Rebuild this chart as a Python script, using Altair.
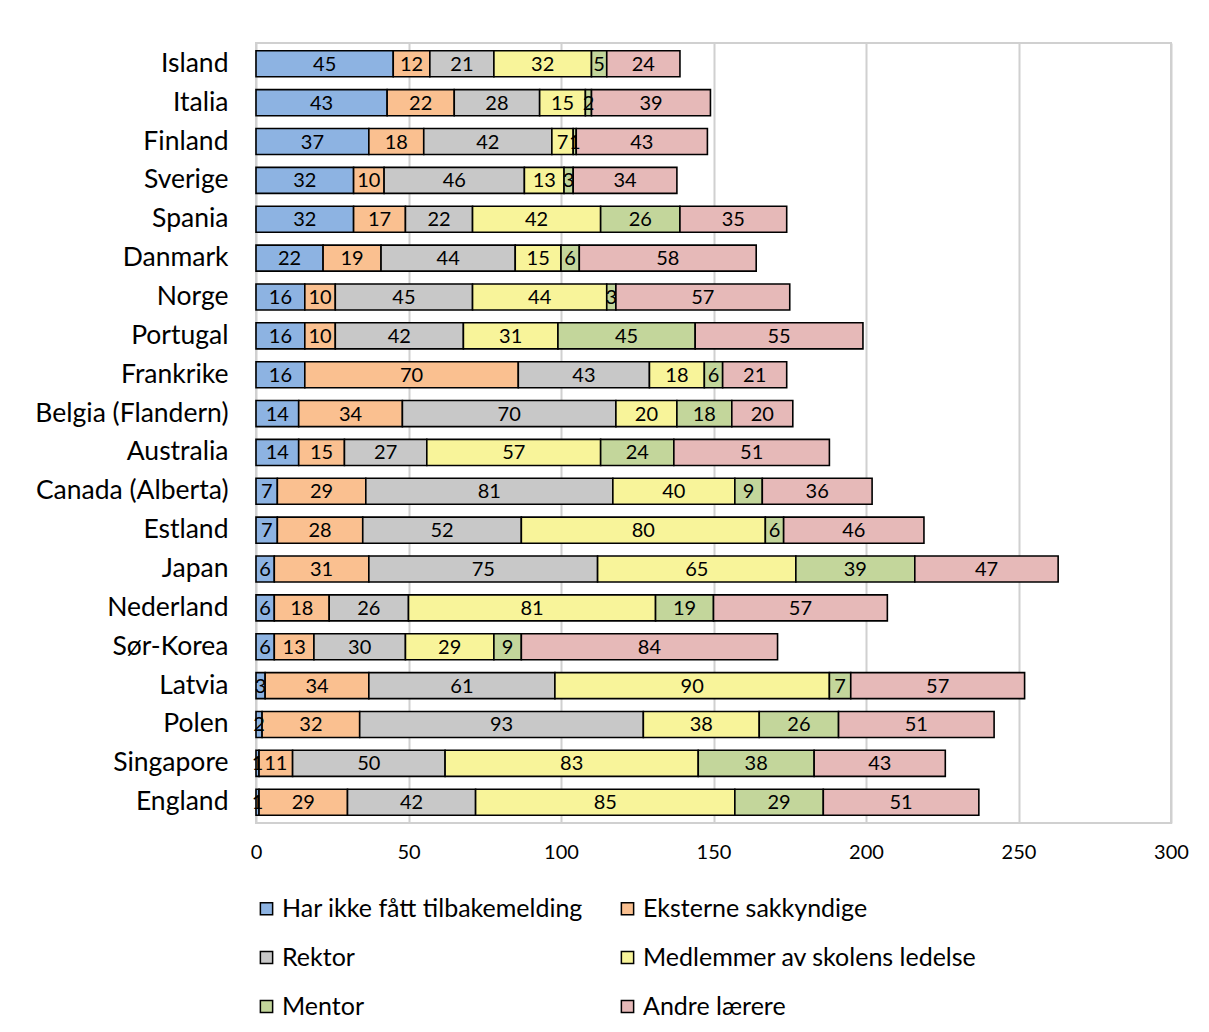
import altair as alt
import pandas as pd

countries = ["Island", "Italia", "Finland", "Sverige", "Spania", "Danmark", "Norge",
             "Portugal", "Frankrike", "Belgia (Flandern)", "Australia", "Canada (Alberta)",
             "Estland", "Japan", "Nederland", "Sør-Korea", "Latvia", "Polen", "Singapore", "England"]
categories = ["Har ikke fått tilbakemelding", "Eksterne sakkyndige", "Rektor",
              "Medlemmer av skolens ledelse", "Mentor", "Andre lærere"]
colors = ["#8DB3E2", "#FAC090", "#C8C8C8", "#F8F49A", "#C3D69B", "#E6B9B8"]

har_ikke = [45, 43, 37, 32, 32, 22, 16, 16, 16, 14, 14, 7, 7, 6, 6, 6, 3, 2, 1, 1]
eksterne = [12, 22, 18, 10, 17, 19, 10, 10, 70, 34, 15, 29, 28, 31, 18, 13, 34, 32, 11, 29]
rektor = [21, 28, 42, 46, 22, 44, 45, 42, 43, 70, 27, 81, 52, 75, 26, 30, 61, 93, 50, 42]
medlemmer = [32, 15, 7, 13, 42, 15, 44, 31, 18, 20, 57, 40, 80, 65, 81, 29, 90, 38, 83, 85]
mentor = [5, 2, 1, 3, 26, 6, 3, 45, 6, 18, 24, 9, 6, 39, 19, 9, 7, 26, 38, 29]
andre = [24, 39, 43, 34, 35, 58, 57, 55, 21, 20, 51, 36, 46, 47, 57, 84, 57, 51, 43, 51]

series = [har_ikke, eksterne, rektor, medlemmer, mentor, andre]
rows = []
for ci, (cat, vals) in enumerate(zip(categories, series)):
    for country, v in zip(countries, vals):
        rows.append({"land": country, "kategori": cat, "ord": ci, "verdi": v})
df = pd.DataFrame(rows)

FONT = "Lato"

base = alt.Chart(df).transform_stack(
    stack="verdi", groupby=["land"], sort=[alt.SortField("ord")], as_=["x0", "x1"]
).transform_calculate(mid="(datum.x0 + datum.x1) / 2")

xscale = alt.Scale(domain=[0, 300])
yenc = alt.Y("land:N", sort=countries, title=None,
             scale=alt.Scale(paddingInner=0.33, paddingOuter=0.2),
             axis=alt.Axis(labelFontSize=26.5, labelFont=FONT, labelColor="#000000",
                           labelPadding=28, labelLimit=400, ticks=False, domain=False,
                           grid=False))

bars = base.mark_bar(stroke="#000000", strokeWidth=1.6).encode(
    x=alt.X("x0:Q", scale=xscale, title=None,
            axis=alt.Axis(values=[0, 50, 100, 150, 200, 250, 300], labelFontSize=20,
                          labelFont=FONT, labelColor="#000000", ticks=False, domain=False,
                          labelFlush=False,
                          grid=True, gridColor="#D0D0D0", gridWidth=2, labelPadding=19)),
    x2="x1:Q",
    y=yenc,
    color=alt.Color("kategori:N", sort=categories,
                    scale=alt.Scale(domain=categories, range=colors),
                    legend=alt.Legend(title=None, orient="none", legendX=-2, legendY=853,
                                      columns=2, direction="horizontal",
                                      columnPadding=32, rowPadding=23,
                                      symbolType="square", symbolSize=150,
                                      symbolStrokeColor="#000000", symbolStrokeWidth=1.5,
                                      labelFontSize=25, labelFont=FONT, labelColor="#000000",
                                      labelLimit=400, symbolOffset=0, labelOffset=3)),
)

labels = base.mark_text(fontSize=20, font=FONT, color="#000000", baseline="middle", dy=1).encode(
    x=alt.X("mid:Q", scale=xscale),
    y=alt.Y("land:N", sort=countries),
    text=alt.Text("verdi:Q"),
)

chart = (bars + labels).properties(
    width=915, height=780,
    autosize=alt.AutoSizeParams(type="none"),
    padding={"left": 248, "top": 35, "right": 30, "bottom": 200},
).configure_view(stroke="#D0D0D0", strokeWidth=2)

chart.save("out.html", embed_options={"renderer": "svg", "actions": False})
